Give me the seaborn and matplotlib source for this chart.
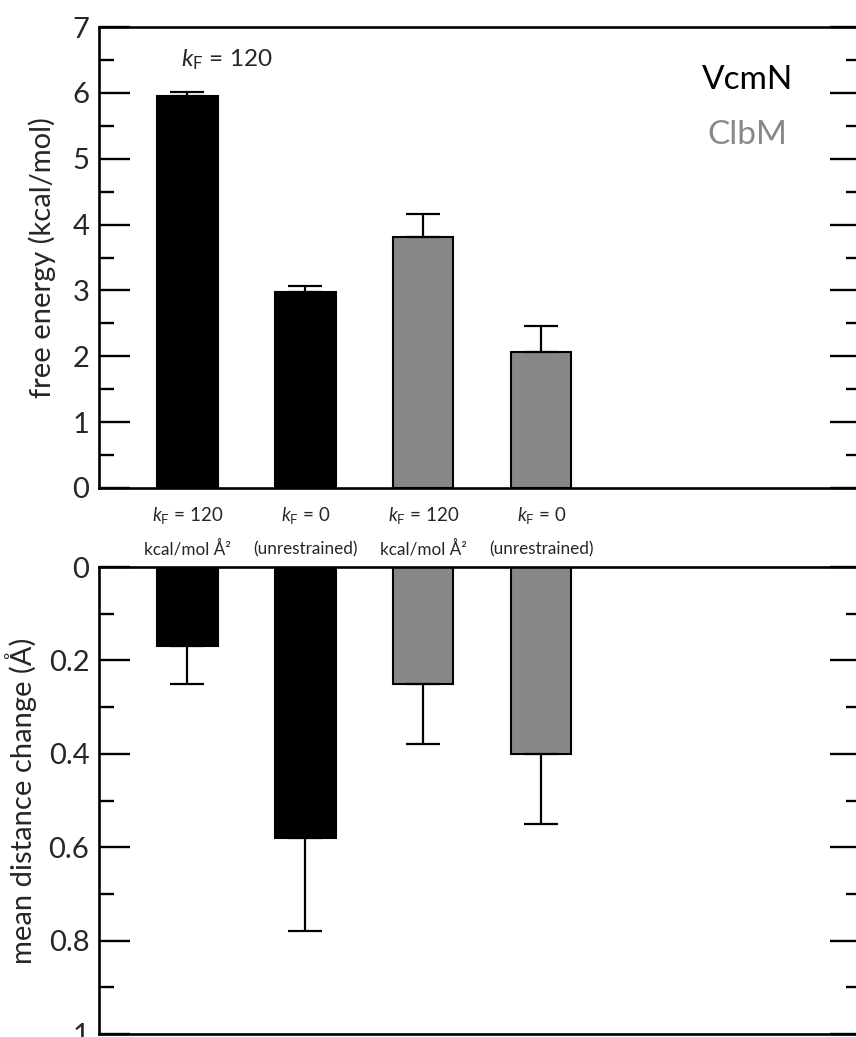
import numpy as np
import matplotlib
matplotlib.use("Agg")
import matplotlib.pyplot as plt
import matplotlib.transforms as mtransforms
from matplotlib.ticker import MultipleLocator
import seaborn as sns

"""
Data
"""
conditions = ["VcmN kF120", "VcmN kF0", "ClbM kF120", "ClbM kF0"]
cat_line1 = [r"$\mathit{k}_\mathregular{F}$ = 120", r"$\mathit{k}_\mathregular{F}$ = 0",
             r"$\mathit{k}_\mathregular{F}$ = 120", r"$\mathit{k}_\mathregular{F}$ = 0"]
cat_line2 = ["kcal/mol Å²", "(unrestrained)", "kcal/mol Å²", "(unrestrained)"]
free_energy = [5.95, 2.97, 3.81, 2.06]
free_energy_err = [0.06, 0.10, 0.35, 0.40]
distance_change = [0.17, 0.58, 0.25, 0.40]
distance_change_err = [0.08, 0.20, 0.13, 0.15]
bar_colors = ["#000000", "#000000", "#878787", "#878787"]
legend_names = ["VcmN", "ClbM"]
legend_colors = ["#000000", "#888888"]

"""
Style
"""
sns.set_style("white")
plt.rcParams['font.family'] = ['Lato', 'DejaVu Sans']
plt.rcParams['mathtext.fontset'] = 'custom'
plt.rcParams['mathtext.rm'] = 'Lato'
plt.rcParams['mathtext.it'] = 'Lato:italic'

fig = plt.figure(figsize=(8.56, 10.37), dpi=100)
ax1 = fig.add_axes([99 / 856, 1 - 488 / 1037, 762 / 856, 461 / 1037])
ax2 = fig.add_axes([99 / 856, 1 - 1034 / 1037, 762 / 856, 467 / 1037])

x = np.arange(len(conditions))


def style_axis(ax):
    for sp in ax.spines.values():
        sp.set_linewidth(1.9)
        sp.set_color("black")
        sp.set_visible(True)
    ax.tick_params(axis="y", which="major", direction="in", length=22, width=1.7,
                   left=True, right=True, labelsize=21, pad=7, color="black")
    ax.tick_params(axis="y", which="minor", direction="in", length=11, width=1.7,
                   left=True, right=True, color="black")
    ax.tick_params(axis="x", bottom=False, top=False, labelbottom=False)
    ax.set_xlim(-0.75, 5.71)
    ax.set_xlabel("")


"""
Top panel: free energy
"""
sns.barplot(x=conditions, y=free_energy, hue=conditions, palette=bar_colors,
            legend=False, width=0.51, edgecolor="black", linewidth=1.5, ax=ax1)
ax1.errorbar(x, free_energy, yerr=[np.zeros(4), free_energy_err], fmt="none",
             ecolor="black", elinewidth=1.6, capsize=12, capthick=1.6, zorder=1)
ax1.set_ylim(0, 7)
ax1.yaxis.set_major_locator(MultipleLocator(1))
ax1.yaxis.set_minor_locator(MultipleLocator(0.5))
style_axis(ax1)
ax1.set_ylabel("free energy (kcal/mol)", fontsize=21, labelpad=12)

ax1.text(0.33, 6.5, r"$\mathit{k}_\mathregular{F}$ = 120", ha="center", va="center", fontsize=17.5)
ax1.text(4.75, 6.19, legend_names[0], color=legend_colors[0], ha="center", va="center", fontsize=24)
ax1.text(4.75, 5.36, legend_names[1], color=legend_colors[1], ha="center", va="center", fontsize=24)

# category labels between the panels
trans = mtransforms.blended_transform_factory(ax1.transData, fig.transFigure)
for i in range(len(conditions)):
    fig.text(x[i], 1 - 516 / 1037, cat_line1[i], transform=trans, ha="center", va="center",
             fontsize=13.5)
    fig.text(x[i], 1 - 549 / 1037, cat_line2[i], transform=trans, ha="center", va="center",
             fontsize=12.3)

"""
Bottom panel: distance change
"""
sns.barplot(x=conditions, y=distance_change, hue=conditions, palette=bar_colors,
            legend=False, width=0.51, edgecolor="black", linewidth=1.5, ax=ax2)
ax2.errorbar(x, distance_change, yerr=[np.zeros(4), distance_change_err], fmt="none",
             ecolor="black", elinewidth=1.6, capsize=12, capthick=1.6, zorder=1)
ax2.set_ylim(1, 0)
ax2.yaxis.set_minor_locator(MultipleLocator(0.1))
ax2.set_yticks([0, 0.2, 0.4, 0.6, 0.8, 1.0])
ax2.set_yticklabels(["0", "0.2", "0.4", "0.6", "0.8", "1"])
style_axis(ax2)
ax2.set_ylabel("mean distance change (Å)", fontsize=21, labelpad=8)

fig.savefig("out.png", dpi=100)
